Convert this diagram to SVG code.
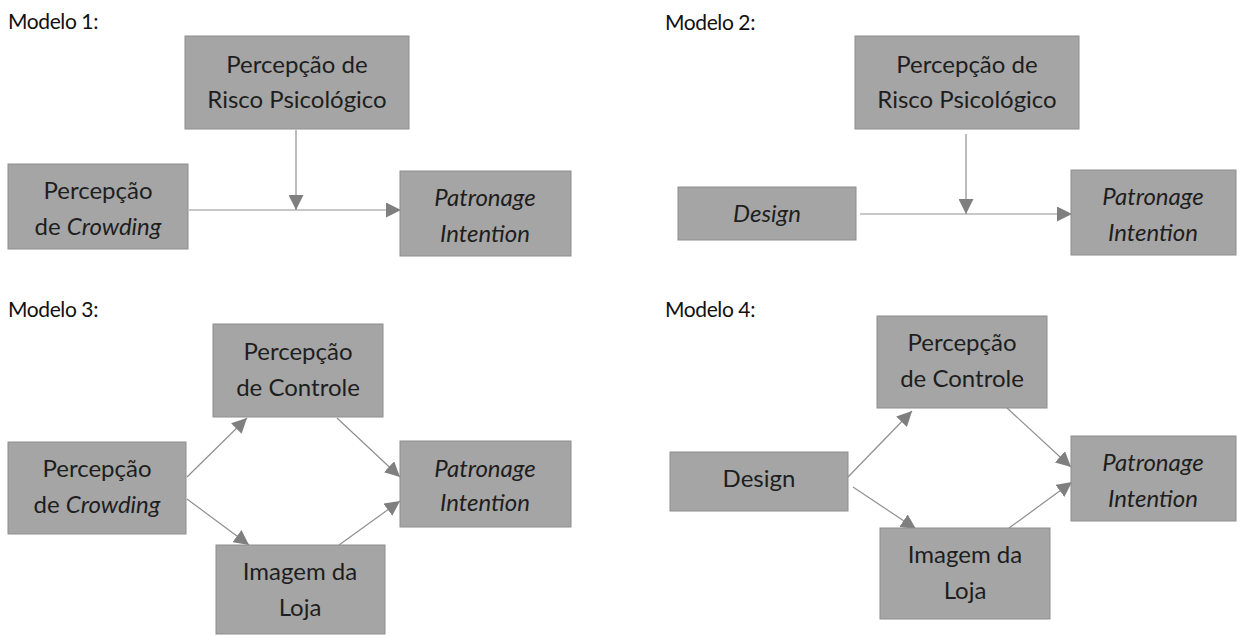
<svg xmlns="http://www.w3.org/2000/svg" width="1240" height="636" viewBox="0 0 1240 636">
<style>
.box{fill:#a5a5a5;stroke:#8e8e8e;stroke-width:1}
.t{font-family:Lato,"Open Sans",sans-serif;font-size:24px;fill:#1e1e1e;text-anchor:middle}
.i{font-style:italic}
.title{font-family:Lato,"Open Sans",sans-serif;font-size:21px;letter-spacing:-0.4px;fill:#111}
.ln{stroke:#8f8f8f;stroke-width:1.2;fill:none;marker-end:url(#ah)}
</style>
<defs>
<marker id="ah" markerUnits="userSpaceOnUse" markerWidth="16" markerHeight="15" refX="15" refY="7.5" orient="auto" viewBox="0 0 16 15">
<path d="M0,0 L15,7.5 L0,15 z" fill="#7f7f7f"/>
</marker>
</defs>
<rect width="1240" height="636" fill="#fff"/>
<g id="titles">
<text class="title" x="8" y="29">Modelo 1:</text>
<text class="title" x="665" y="30">Modelo 2:</text>
<text class="title" x="8" y="317">Modelo 3:</text>
<text class="title" x="665" y="317">Modelo 4:</text>
</g>
<g id="connectors">
<line class="ln" x1="296" y1="130" x2="296" y2="210"/>
<line class="ln" x1="189" y1="210" x2="401" y2="210"/>
<line class="ln" x1="966" y1="134" x2="966" y2="214"/>
<line class="ln" x1="860" y1="214" x2="1072" y2="214"/>
<line class="ln" x1="187" y1="477" x2="247" y2="418"/>
<line class="ln" x1="337" y1="418" x2="400" y2="477"/>
<line class="ln" x1="187" y1="499" x2="249" y2="545"/>
<line class="ln" x1="339" y1="545" x2="400" y2="501"/>
<line class="ln" x1="848" y1="477" x2="912" y2="411"/>
<line class="ln" x1="1007" y1="408" x2="1071" y2="467"/>
<line class="ln" x1="853" y1="487" x2="916" y2="529"/>
<line class="ln" x1="1009" y1="528" x2="1072" y2="482"/>
</g>
<g id="m1-risco"><rect class="box" x="185" y="36" width="224" height="93"/><text class="t" x="297" y="73">Percepção de</text><text class="t" x="297" y="108">Risco Psicológico</text></g>
<g id="m1-crowding"><rect class="box" x="8" y="164" width="180" height="85"/><text class="t" x="98" y="199">Percepção</text><text class="t" x="98" y="235">de <tspan class="i">Crowding</tspan></text></g>
<g id="m1-patronage"><rect class="box" x="400" y="171" width="171" height="85"/><text class="t i" x="485" y="206">Patronage</text><text class="t i" x="485" y="242">Intention</text></g>
<g id="m2-risco"><rect class="box" x="855" y="36" width="224" height="93"/><text class="t" x="967" y="73">Percepção de</text><text class="t" x="967" y="108">Risco Psicológico</text></g>
<g id="m2-design"><rect class="box" x="678" y="187" width="178" height="53"/><text class="t i" x="767" y="222">Design</text></g>
<g id="m2-patronage"><rect class="box" x="1071" y="170" width="165" height="85"/><text class="t i" x="1153" y="205">Patronage</text><text class="t i" x="1153" y="241">Intention</text></g>
<g id="m3-controle"><rect class="box" x="213" y="324" width="170" height="93"/><text class="t" x="298" y="360">Percepção</text><text class="t" x="298" y="396">de Controle</text></g>
<g id="m3-crowding"><rect class="box" x="8" y="442" width="178" height="92"/><text class="t" x="97" y="477">Percepção</text><text class="t" x="97" y="513">de <tspan class="i">Crowding</tspan></text></g>
<g id="m3-patronage"><rect class="box" x="400" y="441" width="171" height="86"/><text class="t i" x="485" y="477">Patronage</text><text class="t i" x="485" y="511">Intention</text></g>
<g id="m3-loja"><rect class="box" x="216" y="545" width="169" height="89"/><text class="t" x="300" y="580">Imagem da</text><text class="t" x="300" y="616">Loja</text></g>
<g id="m4-controle"><rect class="box" x="877" y="316" width="170" height="92"/><text class="t" x="962" y="351">Percepção</text><text class="t" x="962" y="387">de Controle</text></g>
<g id="m4-design"><rect class="box" x="670" y="452" width="178" height="59"/><text class="t" x="759" y="487">Design</text></g>
<g id="m4-patronage"><rect class="box" x="1071" y="436" width="165" height="85"/><text class="t i" x="1153" y="471">Patronage</text><text class="t i" x="1153" y="507">Intention</text></g>
<g id="m4-loja"><rect class="box" x="880" y="528" width="170" height="91"/><text class="t" x="965" y="563">Imagem da</text><text class="t" x="965" y="599">Loja</text></g>
</svg>
